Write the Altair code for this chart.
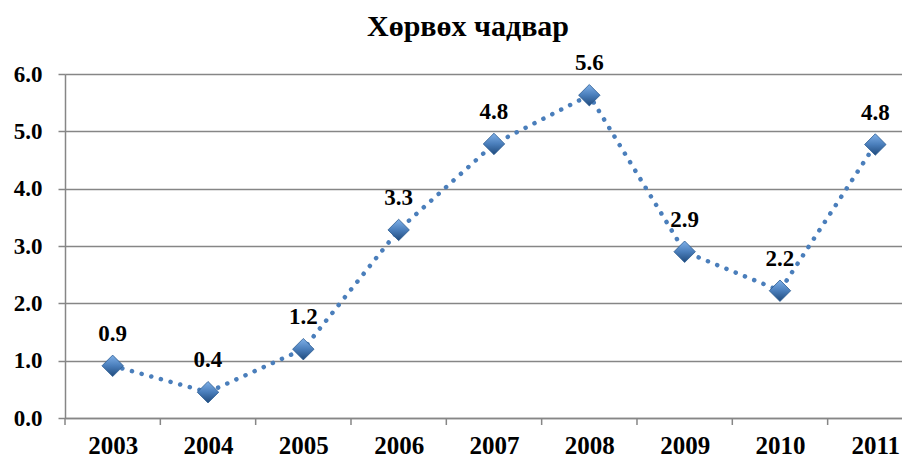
import altair as alt
import pandas as pd

years = [2003, 2004, 2005, 2006, 2007, 2008, 2009, 2010, 2011]
values = [0.91, 0.45, 1.2, 3.28, 4.78, 5.63, 2.9, 2.22, 4.77]
labels = ["0.9", "0.4", "1.2", "3.3", "4.8", "5.6", "2.9", "2.2", "4.8"]
title_text = "Хөрвөх чадвар"

df = pd.DataFrame({"year": years, "value": values, "label": labels})
bounds = pd.DataFrame({"b": [y - 0.5 for y in years]})

FONT = "Liberation Serif"
BLUE = "#4a7ebb"
AX = "#868686"

x_scale = alt.Scale(domain=[2002.5, 2011.28], nice=False, zero=False)
x_axis = alt.Axis(values=years, format="d", tickSize=0, ticks=False,
                  labelPadding=35, labelBaseline="alphabetic",
                  labelFont=FONT, labelFontSize=25, labelFontWeight="bold",
                  labelColor="black", domainColor=AX, domainWidth=1.5,
                  grid=False, labelFlush=False, labelOverlap=False)
x = alt.X("year:Q", title=None, scale=x_scale, axis=x_axis)
y = alt.Y("value:Q", title=None,
          scale=alt.Scale(domain=[0, 6], nice=False, zero=True),
          axis=alt.Axis(values=[0, 1, 2, 3, 4, 5, 6], format=".1f", tickSize=7,
                        labelPadding=16, labelFont=FONT, labelFontSize=23,
                        labelFontWeight="bold", labelColor="black",
                        domainColor=AX, tickColor=AX, domainWidth=1.5,
                        tickWidth=1.5, gridColor=AX, gridWidth=1.5))

base = alt.Chart(df)

line = base.mark_line(color=BLUE, strokeWidth=4.5, strokeDash=[0.1, 9.9],
                      strokeCap="round").encode(x=x, y=y)

ticks = alt.Chart(bounds).mark_rule(color=AX, strokeWidth=1.5).encode(
    x=alt.X("b:Q", title=None, scale=x_scale, axis=x_axis),
    y=alt.value(344), y2=alt.value(351))

grad = alt.Gradient(gradient="linear", x1=0, y1=0, x2=0, y2=1,
                    stops=[alt.GradientStop(color="#7fb0e8", offset=0),
                           alt.GradientStop(color="#4a7ebb", offset=0.5),
                           alt.GradientStop(color="#1f4a7c", offset=1)])
points = base.mark_point(shape="diamond", size=460, filled=True, fill=grad,
                         opacity=1, stroke="#2a5a90", strokeWidth=0.8).encode(x=x, y=y)

text = base.mark_text(dy=-25, font=FONT, fontSize=23, fontWeight="bold",
                      color="black", baseline="alphabetic").encode(x=x, y=y, text="label:N")

title = alt.Chart(pd.DataFrame({"t": [title_text]})).mark_text(
    font=FONT, fontSize=30, fontWeight="bold", color="black", baseline="alphabetic"
).encode(x=alt.value(403), y=alt.value(-38), text="t:N")

chart = alt.layer(line, ticks, points, text, title).resolve_scale(x="shared").properties(
    width=837, height=344,
    autosize=alt.AutoSizeParams(type="none"),
    padding={"left": 57, "top": 66, "right": 0, "bottom": 41},
).configure_view(fill="#e8e8e8", stroke=None, clip=False).configure(background="white")

chart.save("out.html", embed_options={"renderer": "svg", "actions": False})
